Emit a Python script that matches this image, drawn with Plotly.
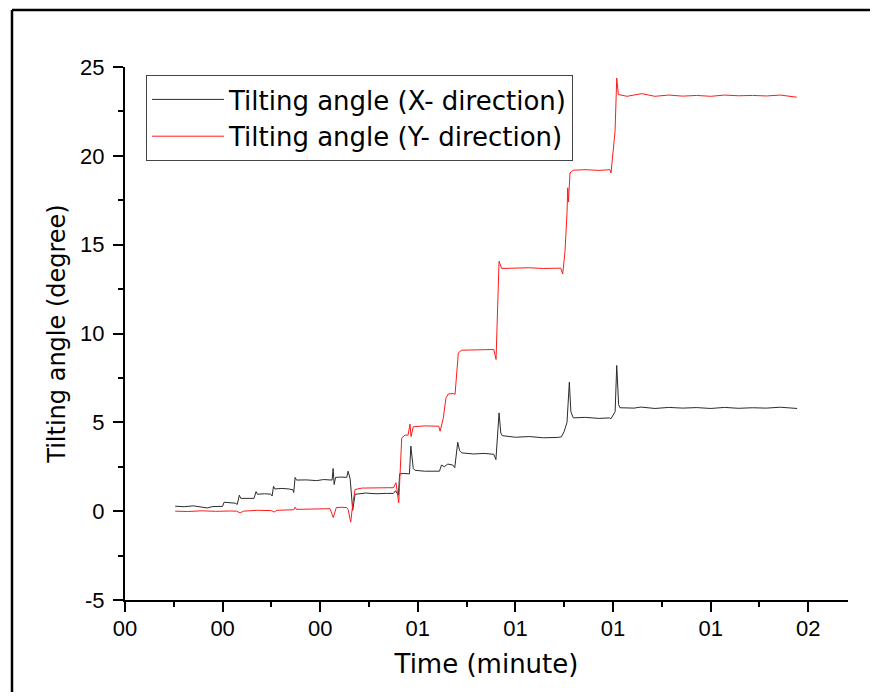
import plotly.graph_objects as go

# Time axis (seconds) and tick labels
tick_vals = [0, 14, 28, 42, 56, 70, 84, 98]
tick_text = ["00", "00", "00", "01", "01", "01", "01", "02"]
y_tick_vals = [-5, 0, 5, 10, 15, 20, 25]
y_tick_text = ["-5", "0", "5", "10", "15", "20", "25"]

# Tilting angle, X- direction
t_x = [7.2, 8.5, 9.8, 11.0, 11.8, 12.6, 13.5, 14.0, 14.2, 15.0, 15.8, 16.1, 16.4, 16.6,
       17.5, 18.5, 18.8, 19.0, 20.0, 20.9, 21.1, 21.3, 21.5, 22.5, 23.5, 24.1, 24.2, 24.4,
       24.6, 26.0, 27.5, 28.5, 29.7, 29.85, 30.0, 30.2, 31.0, 31.8, 32.0, 32.3, 32.66, 32.85,
       33.0, 34.5, 36.0, 37.5, 38.5, 38.8, 39.2, 39.4, 40.0, 40.8, 41.0, 41.35, 41.6, 43.0,
       44.5, 45.1, 45.4, 45.8, 46.3, 47.0, 47.3, 47.72, 48.0, 48.3, 50.0, 51.5, 52.9, 53.2,
       53.65, 53.9, 54.1, 56.0, 58.0, 60.0, 62.0, 62.6, 63.0, 63.4, 63.73, 63.95, 64.3, 66.0,
       68.0, 69.5, 69.7, 70.1, 70.3, 70.53, 70.8, 71.0, 73.0, 74.0, 76.0, 78.0, 80.0, 82.0,
       84.0, 86.0, 88.0, 90.0, 92.0, 94.0, 96.4]
v_x = [0.28, 0.25, 0.30, 0.22, 0.18, 0.26, 0.27, 0.27, 0.50, 0.48, 0.45, 0.38, 0.90, 0.72,
       0.74, 0.72, 1.10, 0.95, 0.98, 0.96, 0.85, 1.40, 1.25, 1.28, 1.25, 1.20, 1.05, 1.90,
       1.75, 1.76, 1.72, 1.78, 1.75, 2.40, 1.50, 1.90, 1.92, 1.90, 2.25, 1.80, 0.05, 0.70,
       0.95, 1.02, 0.98, 1.00, 1.00, 1.15, 0.90, 2.10, 2.12, 2.10, 3.66, 2.40, 2.30, 2.25,
       2.22, 2.25, 2.60, 2.50, 2.65, 2.60, 2.45, 3.88, 3.40, 3.28, 3.22, 3.25, 3.20, 2.90,
       5.53, 4.40, 4.25, 4.16, 4.20, 4.13, 4.15, 4.18, 4.50, 5.00, 7.26, 5.60, 5.25, 5.28,
       5.22, 5.25, 5.20, 5.50, 5.60, 8.20, 6.00, 5.82, 5.80, 5.86, 5.78, 5.84, 5.80, 5.83,
       5.78, 5.84, 5.79, 5.82, 5.80, 5.85, 5.78]

# Tilting angle, Y- direction
t_y = [7.2, 9.0, 11.0, 13.0, 15.0, 16.0, 16.5, 17.0, 19.0, 21.0, 21.4, 21.8, 24.2, 24.4,
       24.6, 26.5, 28.0, 29.4, 29.88, 30.3, 31.0, 31.8, 32.0, 32.37, 32.7, 33.0, 34.0, 36.0,
       38.0, 38.5, 38.87, 39.26, 39.5, 39.69, 40.16, 40.6, 40.88, 41.02, 41.35, 43.0, 45.0,
       45.2, 45.66, 46.04, 46.4, 47.1, 47.34, 47.81, 48.3, 50.0, 52.0, 52.9, 53.22, 53.65,
       54.03, 56.0, 58.0, 60.0, 62.5, 62.78, 63.11, 63.4, 63.5, 63.6, 63.83, 64.3, 66.0,
       68.0, 69.57, 69.71, 70.04, 70.29, 70.53, 70.76, 72.0, 74.12, 76.0, 78.0, 80.0, 82.0,
       84.0, 86.0, 88.0, 90.0, 92.0, 94.0, 96.35]
v_y = [0.00, -0.02, 0.02, -0.01, 0.01, 0.00, -0.10, 0.00, 0.05, 0.03, -0.05, 0.05, 0.08, 0.22,
       0.10, 0.13, 0.12, 0.14, -0.36, 0.20, 0.22, 0.20, 0.10, -0.62, 0.50, 1.22, 1.30, 1.33,
       1.32, 1.32, 1.60, 0.47, 2.50, 4.12, 4.28, 4.28, 4.90, 4.20, 4.75, 4.80, 4.78,
       4.50, 5.25, 6.38, 6.60, 6.62, 6.58, 8.91, 9.06, 9.08, 9.10, 9.10, 8.54, 14.07,
       13.66, 13.68, 13.70, 13.66, 13.68, 13.35, 14.63, 16.8, 18.2, 17.4, 19.04, 19.19, 19.22,
       19.18, 19.22, 19.04, 20.44, 21.38, 24.38, 23.45, 23.35, 23.50, 23.35, 23.42, 23.36, 23.40,
       23.35, 23.42, 23.38, 23.40, 23.37, 23.42, 23.30]

fig = go.Figure()
fig.add_trace(go.Scatter(x=t_x, y=v_x, mode="lines", name="Tilting angle (X- direction)",
                         line=dict(color="#2b2b2b", width=1)))
fig.add_trace(go.Scatter(x=t_y, y=v_y, mode="lines", name="Tilting angle (Y- direction)",
                         line=dict(color="#ff1a1a", width=1)))

tick_font = dict(family="Liberation Sans, Arial, sans-serif", size=22, color="black")
title_font = dict(family="DejaVu Sans, sans-serif", size=26, color="black")

fig.update_layout(
    width=870, height=684,
    margin=dict(l=117, r=30, t=59, b=92),
    paper_bgcolor="white", plot_bgcolor="white",
    showlegend=True,
    legend=dict(x=0.029, y=0.985, xanchor="left", yanchor="top",
                bordercolor="#444444", borderwidth=1, bgcolor="white",
                font=dict(family="DejaVu Sans, sans-serif", size=26, color="black"),
                itemwidth=72, tracegroupgap=0),
    xaxis=dict(range=[0, 103.7], tickmode="array", tickvals=tick_vals, ticktext=tick_text,
               showline=True, linecolor="black", linewidth=2, mirror=False,
               ticks="outside", ticklen=10, tickwidth=2, tickcolor="black",
               ticklabelstandoff=-2,
               minor=dict(tickmode="linear", tick0=7, dtick=14, ticks="outside", ticklen=5,
                          tickwidth=2, tickcolor="black", showgrid=False),
               showgrid=False, zeroline=False, tickfont=tick_font,
               title=dict(text="Time (minute)", font=title_font, standoff=14)),
    yaxis=dict(range=[-5, 25], tickmode="array", tickvals=y_tick_vals, ticktext=y_tick_text,
               showline=True, linecolor="black", linewidth=2, mirror=False,
               ticks="outside", ticklen=10, tickwidth=2, tickcolor="black",
               ticklabelstandoff=4,
               minor=dict(tickmode="linear", tick0=-2.5, dtick=5, ticks="outside", ticklen=5,
                          tickwidth=2, tickcolor="black", showgrid=False),
               showgrid=False, zeroline=False, tickfont=tick_font,
               title=dict(text="Tilting angle (degree)",
                          font=dict(family="DejaVu Sans, sans-serif", size=24, color="black"),
                          standoff=8)),
    shapes=[
        dict(type="line", xref="paper", yref="paper",
             x0=-0.1563, y0=1.107, x1=1.1, y1=1.107,
             line=dict(color="black", width=2.5), layer="above"),
        dict(type="line", xref="paper", yref="paper",
             x0=-0.1563, y0=1.107, x1=-0.1563, y1=-0.2,
             line=dict(color="black", width=2.5), layer="above"),
    ],
)

fig.write_html("out.html")
